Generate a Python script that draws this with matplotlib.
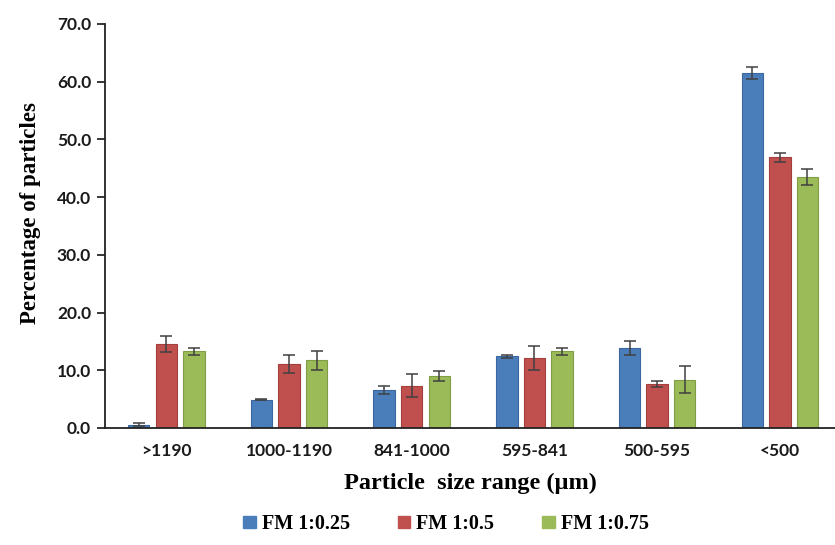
import matplotlib
matplotlib.use("Agg")
import matplotlib.pyplot as plt
import numpy as np
from matplotlib.patches import Patch

categories = [">1190", "1000-1190", "841-1000", "595-841", "500-595", "<500"]
series_names = ["FM 1:0.25", "FM 1:0.5", "FM 1:0.75"]
fm025 = [0.6, 4.9, 6.6, 12.4, 13.9, 61.5]
fm05 = [14.5, 11.1, 7.3, 12.1, 7.6, 46.9]
fm075 = [13.3, 11.7, 9.0, 13.3, 8.4, 43.5]
err025 = [0.2, 0.1, 0.7, 0.2, 1.2, 1.1]
err05 = [1.4, 1.6, 2.0, 2.1, 0.5, 0.8]
err075 = [0.6, 1.6, 0.8, 0.6, 2.3, 1.4]
yticks = [0, 10, 20, 30, 40, 50, 60, 70]

colors = ["#4A7EBB", "#C0504D", "#9BBB59"]
edges = ["#3A67A0", "#A33F3C", "#809D45"]

fig = plt.figure(figsize=(8.35, 5.45), dpi=100)
ax = fig.add_axes([105/835, 1-428/545, 730/835, (428-24)/545])

x = np.arange(len(categories))
w = 0.175
step = 0.225
vals = [fm025, fm05, fm075]
errs = [err025, err05, err075]
for i in range(3):
    ax.bar(x + (i-1)*step, vals[i], width=w, color=colors[i], edgecolor=edges[i],
           linewidth=0.8, yerr=errs[i], capsize=4,
           error_kw=dict(ecolor="#404040", elinewidth=1.1, capthick=1.1), zorder=2)

ax.set_xlim(-0.5, -0.5 + 730/122.7)
ax.set_ylim(0, 70)
ax.set_yticks(yticks)
ax.set_yticklabels([f"{v:.1f}" for v in yticks])
ax.set_xticks(x)
ax.set_xticklabels(categories)
for s in ["top", "right"]:
    ax.spines[s].set_visible(False)
for s in ["left", "bottom"]:
    ax.spines[s].set_linewidth(1.3)
    ax.spines[s].set_color("#222222")
ax.tick_params(axis="x", length=0, pad=11)
ax.tick_params(axis="y", length=6, width=1.1, direction="out", pad=4)
for lab in ax.get_xticklabels() + ax.get_yticklabels():
    lab.set_fontfamily("Lato")
    lab.set_fontsize(12.5)
    lab.set_fontweight("bold")
    lab.set_color("#1a1a1a")

ax.set_ylabel("Percentage of particles", fontfamily="Liberation Serif",
              fontweight="bold", fontsize=16.5)
ax.yaxis.set_label_coords(-64/730, (428-213)/404)
ax.set_xlabel("Particle  size range (µm)", fontfamily="Liberation Serif",
              fontweight="bold", fontsize=17.5, labelpad=10)

handles = [Patch(facecolor=colors[i], edgecolor=colors[i]) for i in range(3)]
fig.legend(handles, series_names, loc="center", bbox_to_anchor=(446/835, 1-524/545),
           ncol=3, frameon=False, handlelength=0.6, handleheight=0.6,
           handletextpad=0.3, columnspacing=2.4,
           prop=dict(family="Liberation Serif", weight="bold", size=14.5))

fig.savefig("out.png", dpi=100)
